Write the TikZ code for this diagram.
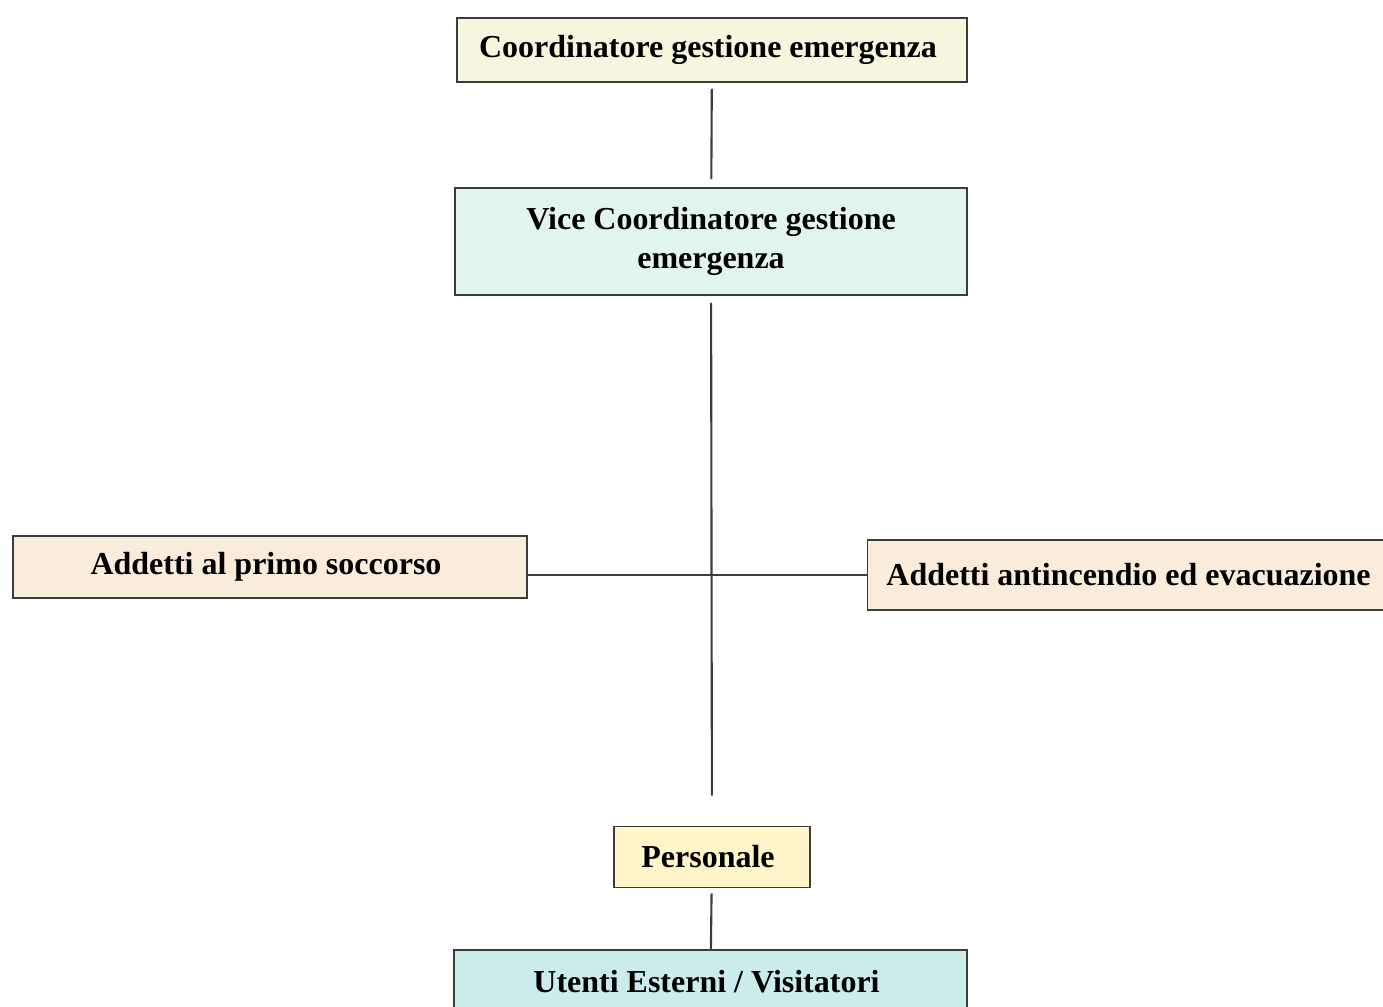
\documentclass[tikz,border=0pt]{standalone}
\usepackage{fontspec}
\setmainfont{Liberation Serif}
\usetikzlibrary{positioning}
\usepackage{xcolor}

\definecolor{boxline}{RGB}{60,60,60}
\definecolor{paleyellow}{RGB}{246,246,222}
\definecolor{palecyan}{RGB}{226,244,240}
\definecolor{palepeach}{RGB}{250,236,218}
\definecolor{lightyellow}{RGB}{255,245,200}
\definecolor{lightcyan}{RGB}{204,236,236}

\begin{document}
\begin{tikzpicture}[every node/.style={
    rectangle,
    inner sep=3pt,
    draw=boxline,
    line width=1.1pt,
    align=center,
    font=\fontsize{18.2}{22}\selectfont\bfseries,
    fill=paleyellow
}]
    \useasboundingbox (0, 0) rectangle (27.66, -20.12);

    \node (coordinatore) [minimum width=10.2cm, minimum height=1.28cm, shift={(14.24, -1.0)}]
    {
        Coordinatore gestione emergenza
    };
    \node (vice_coordinatore) [fill=palecyan, minimum width=10.24cm, minimum height=2.14cm, shift={(14.22, -4.83)}]
    {
        Vice Coordinatore gestione\\emergenza
    };
    \node (primo_soccorso) [fill=palepeach, minimum width=10.28cm, minimum height=1.24cm, shift={(5.4, -11.34)}]
    {
        Addetti al primo soccorso
    };
    \node (antincendio) [fill=palepeach, minimum width=10.6cm, minimum height=1.4cm, shift={(22.65, -11.5)}]
    {
        Addetti antincendio ed evacuazione
    };
    \node (personale) [fill=lightyellow, minimum width=3.92cm, minimum height=1.22cm, shift={(14.24, -17.14)}]
    {
        Personale
    };
    \node (utenti) [fill=lightcyan, minimum width=10.26cm, minimum height=1.28cm, shift={(14.21, -19.64)}]
    {
        Utenti Esterni / Visitatori
    };

    \draw[boxline, line width=1.2pt, shorten <=0.12cm, shorten >=0.16cm] (coordinatore) to (vice_coordinatore);
    \draw[boxline, line width=1.2pt, shorten <=0.14cm, shorten >=0.6cm] (vice_coordinatore) to (personale);
    \draw[boxline, line width=1.2pt] (antincendio.west) to (antincendio.west -| primo_soccorso.east);
    \draw[boxline, line width=1.2pt, shorten <=0.1cm] (personale) to (utenti);
\end{tikzpicture}
\end{document}
